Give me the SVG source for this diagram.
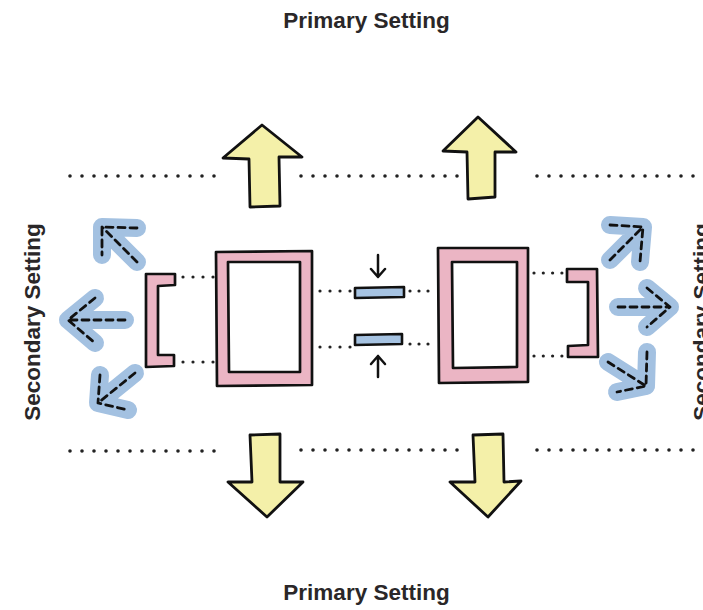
<svg xmlns="http://www.w3.org/2000/svg" width="703" height="610" viewBox="0 0 703 610">
<style>
.lbl{font-family:"Liberation Sans",Arial,sans-serif;font-weight:700;font-size:22.5px;fill:#2a2728;text-anchor:middle}
.big{fill:#f4f0a9;stroke:#111;stroke-width:2.8;stroke-linejoin:round}
.pink{fill:#ebb5c4;stroke:#111;stroke-width:2.7;stroke-linejoin:round;fill-rule:evenodd}
.bar{fill:#a6c3e2;stroke:#111;stroke-width:2.6;stroke-linejoin:round}
.dotL{fill:none;stroke:#222;stroke-width:3.6;stroke-linecap:round;stroke-dasharray:0 12}
.dotS{fill:none;stroke:#222;stroke-width:3.2;stroke-linecap:round;stroke-dasharray:0 10}
.bl{fill:none;stroke:#a3c1e1;stroke-width:18;stroke-linecap:round;stroke-linejoin:round}
.dash{fill:none;stroke:#111;stroke-width:2.8;stroke-linecap:round;stroke-linejoin:round;stroke-dasharray:7 5}
.sm{fill:none;stroke:#111;stroke-width:2.5;stroke-linecap:round;stroke-linejoin:round}
</style>
<rect width="703" height="610" fill="#fff"/>
<g id="labels">
<text class="lbl" x="366.5" y="28">Primary Setting</text>
<text class="lbl" x="366.5" y="600">Primary Setting</text>
<text class="lbl" transform="translate(40,322) rotate(-90)">Secondary Setting</text>
<text class="lbl" transform="translate(709,322) rotate(-90)">Secondary Setting</text>
</g>
<g id="connectors">
<path class="dotL" d="M70,176H225M301,176H458M537,176H695"/>
<path class="dotL" d="M70,451H225M301,450H458M537,450H694"/>
<path class="dotS" d="M183,277H214M183,362H214"/>
<path class="dotS" d="M320,291H351M320,347H351"/>
<path class="dotS" d="M410,291H437M410,344H437" style="stroke-dasharray:0 9"/>
<path class="dotS" d="M534,273H562M534,356H562" style="stroke-dasharray:0 9.3"/>
</g>
<g id="arrow-up-left"><polygon class="big" points="250,207 249,159 223,158 262,125 302,157 279,157 280,206"/></g>
<g id="arrow-up-right"><polygon class="big" points="468,199 467,152 443,151 478,117 516,152 495,152 495,197"/></g>
<g id="arrow-down-left"><polygon class="big" points="250,435 280,434 280,482 303,482 267,517 228,482 252,482"/></g>
<g id="arrow-down-right"><polygon class="big" points="473,435 503,434 504,482 521,481 488,517 450,482 475,482"/></g>
<g id="left-bracket"><path class="pink" d="M146,274 L175,274 L175,285 L158,286 L158,355 L174,355 L174,366 L146,367 Z"/></g>
<g id="left-frame"><path class="pink" d="M216,252 L312,251 L312,385 L217,386 Z M228,262 L300,262 L300,372 L229,372 Z"/></g>
<g id="right-frame"><path class="pink" d="M438,248 L528,248 L528,382 L439,383 Z M452,262 L517,262 L517,367 L453,368 Z"/></g>
<g id="right-bracket"><path class="pink" d="M567,269 L597,269 L598,357 L568,357 L568,346 L588,345 L588,282 L567,282 Z"/></g>
<g id="center-top-bar"><path class="bar" d="M355,288 L404,287 L404,297 L355,298 Z"/></g>
<g id="center-bottom-bar"><path class="bar" d="M355,335 L402,334 L402,344 L355,345 Z"/></g>
<g id="press-down"><path class="sm" d="M378,255V276M371,269L378,277L385,269"/></g>
<g id="press-up"><path class="sm" d="M378,377V356M371,364L378,356L385,364"/></g>
<g id="blue-left-top"><path class="bl" d="M137,262L102,227M137,228L102,227L102,255"/><path class="dash" d="M137,262L102,227M137,228L102,227L102,255"/></g>
<g id="blue-left-mid"><path class="bl" d="M125,320H68M95,298L68,320L95,343"/><path class="dash" d="M125,320H68M95,298L68,320L95,343"/></g>
<g id="blue-left-bottom"><path class="bl" d="M135,373L98,403M100,375L98,403L128,410"/><path class="dash" d="M135,373L98,403M100,375L98,403L128,410"/></g>
<g id="blue-right-top"><path class="bl" d="M610,260L643,227M610,225L643,227L640,262"/><path class="dash" d="M610,260L643,227M610,225L643,227L640,262"/></g>
<g id="blue-right-mid"><path class="bl" d="M618,307H670M647,288L670,307L647,327"/><path class="dash" d="M618,307H670M647,288L670,307L647,327"/></g>
<g id="blue-right-bottom"><path class="bl" d="M608,362L646,386M647,352L646,386L617,392"/><path class="dash" d="M608,362L646,386M647,352L646,386L617,392"/></g>
</svg>
